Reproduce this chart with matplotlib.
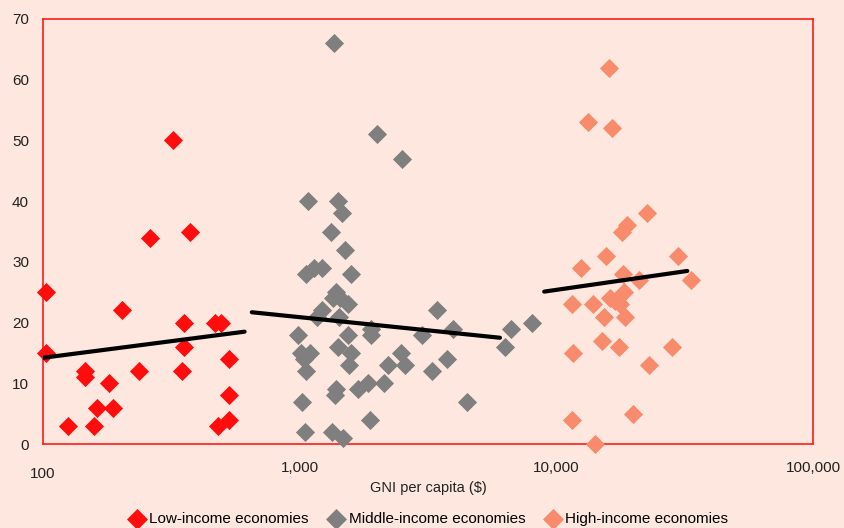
import matplotlib
matplotlib.use("Agg")
import matplotlib.pyplot as plt
import matplotlib.transforms as mtransforms
import numpy as np

plt.rcParams['font.family'] = ['Liberation Sans Narrow', 'Liberation Sans', 'DejaVu Sans']

# ---- data ----
low_x = [103, 103, 125, 146, 146, 158, 162, 180, 188, 204, 237, 262, 320, 349, 354, 354,
         373, 468, 494, 480, 529, 529, 531]
low_y = [25, 15, 3, 12, 11, 3, 6, 10, 6, 22, 12, 34, 50, 12, 20, 16,
         35, 20, 20, 3, 14, 8, 4]

mid_x = [1365, 1995, 2509, 1074, 1406, 1457, 1328, 1497, 1060, 1138, 1219, 1589,
         1383, 1350, 1440, 1540, 1219, 1170, 1420, 1540, 984, 1900, 1900, 2985,
         3419, 3966, 1010, 1095, 1040, 1060, 1410, 1580, 1550, 2213, 2472, 2575,
         3268, 3738, 1019, 1390, 1370, 1691, 1840, 2138, 4468, 1884, 1045, 1335,
         1470, 6325, 6640, 8036]
mid_y = [66, 51, 47, 40, 40, 38, 35, 32, 28, 29, 29, 28,
         25, 24, 24, 23, 22, 21, 21, 18, 18, 19, 18, 18,
         22, 19, 15, 15, 14, 12, 16, 15, 13, 13, 15, 13,
         12, 14, 7, 9, 8, 9, 10, 10, 7, 4, 2, 2,
         1, 16, 19, 20]

high_x = [15990, 13310, 16480, 22550, 18790, 17970, 15640, 29860, 12480, 18120, 21040,
          33360, 18300, 16200, 16900, 17700, 11530, 13840, 15370, 18470, 15070, 17500,
          28170, 11660, 22960, 19960, 11550, 14180]
high_y = [62, 53, 52, 38, 36, 35, 31, 31, 29, 28, 27,
          27, 25, 24, 23.5, 23, 23, 23, 21, 21, 17, 16,
          16, 15, 13, 5, 4, 0]

low_trend_x = [100, 610]
low_trend_y = [14.2, 18.5]
mid_trend_x = [651, 6030]
mid_trend_y = [21.7, 17.5]
high_trend_x = [8970, 32370]
high_trend_y = [25.1, 28.5]

series_labels = ['Low-income economies', 'Middle-income economies', 'High-income economies']
x_ticks = [100, 1000, 10000, 100000]
x_tick_labels = ['100', '1,000', '10,000', '100,000']
y_ticks = [0, 10, 20, 30, 40, 50, 60, 70]

# ---- styling ----
bg = '#FDE7DE'
c_low = '#FF0D0D'
c_mid = '#7F7F7F'
c_high = '#F78B6B'

fig = plt.figure(figsize=(8.45, 5.28), dpi=100, facecolor=bg)
ax = fig.add_axes([43/845, 1-444/528, (813-43)/845, (444-19)/528], facecolor=bg)

ms = 95
ax.scatter(low_x, low_y, marker='D', s=ms, color=c_low, linewidths=0, clip_on=False, zorder=3, label=series_labels[0])
ax.scatter(mid_x, mid_y, marker='D', s=ms, color=c_mid, linewidths=0, clip_on=False, zorder=3, label=series_labels[1])
ax.scatter(high_x, high_y, marker='D', s=ms, color=c_high, linewidths=0, clip_on=False, zorder=3, label=series_labels[2])

for tx, ty in [(low_trend_x, low_trend_y), (mid_trend_x, mid_trend_y), (high_trend_x, high_trend_y)]:
    ax.plot(tx, ty, color='black', lw=3, solid_capstyle='round', zorder=4)

ax.set_xscale('log')
ax.set_xlim(100, 100000)
ax.set_ylim(0, 70)
ax.set_xticks(x_ticks)
ax.set_xticklabels(x_tick_labels)
ax.minorticks_off()
ax.set_yticks(y_ticks)
ax.tick_params(axis='both', length=0, labelsize=11, colors='#222222')
ax.tick_params(axis='y', pad=10)
ax.tick_params(axis='x', pad=12)
# first label sits a little lower
lbls = ax.get_xticklabels()
off = mtransforms.ScaledTranslation(0, -6/100, fig.dpi_scale_trans)
lbls[0].set_transform(lbls[0].get_transform() + off)

for s in ax.spines.values():
    s.set_color('#FF1A1A')
    s.set_linewidth(1.2)

ax.set_xlabel('GNI per capita ($)', fontsize=10.5, color='#222222', labelpad=0)

handles, labels = ax.get_legend_handles_labels()
fig.legend(handles, labels, loc='center', bbox_to_anchor=(428/845, 1-519/528), ncol=3,
           frameon=False, fontsize=11, handletextpad=0.2, columnspacing=1.2,
           markerscale=1.1, handlelength=1.2)

fig.savefig('out.png', dpi=100, facecolor=bg)
